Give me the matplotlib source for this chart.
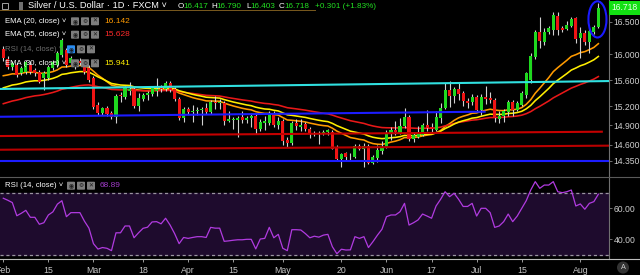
import numpy as np
import matplotlib
matplotlib.use("Agg")
import matplotlib.pyplot as plt
import matplotlib.transforms as mtransforms
from matplotlib.patches import Ellipse, FancyBboxPatch, Rectangle
from matplotlib.lines import Line2D

plt.rcParams['font.family'] = ['Liberation Sans', 'DejaVu Sans']

# daily candles, Feb 1 .. Aug 7 2019 (XAG/USD, FXCM)
opens = [16.08, 15.93, 15.80, 15.83, 15.71, 15.73, 15.83, 15.75, 15.73, 15.63,
         15.63, 15.79, 15.83, 15.99, 16.07, 15.87, 15.83, 15.90, 15.80, 15.79,
         15.63, 15.22, 15.09, 15.17, 15.09, 15.03, 15.37, 15.34, 15.44, 15.46,
         15.20, 15.31, 15.37, 15.39, 15.44, 15.48, 15.46, 15.56, 15.46, 15.31,
         15.02, 15.15, 15.11, 15.12, 15.14, 15.17, 15.11, 15.27, 15.25, 15.25,
         14.97, 14.98, 14.99, 15.03, 14.99, 15.01, 15.04, 14.85, 14.94, 14.94,
         15.09, 14.91, 14.97, 14.67, 14.63, 14.94, 14.88, 14.92, 14.85, 14.77,
         14.79, 14.77, 14.80, 14.80, 14.57, 14.38, 14.47, 14.43, 14.41, 14.58,
         14.54, 14.58, 14.32, 14.39, 14.50, 14.57, 14.78, 14.83, 14.78, 14.89,
         15.03, 14.69, 14.72, 14.75, 14.91, 14.87, 14.83, 15.02, 15.17, 15.45,
         15.36, 15.46, 15.40, 15.28, 15.26, 15.34, 15.14, 15.34, 15.33, 15.29,
         15.00, 15.05, 15.11, 15.26, 15.14, 15.22, 15.37, 15.60, 15.96, 16.35,
         16.19, 16.35, 16.38, 16.59, 16.41, 16.39, 16.44, 16.56, 16.25, 16.33,
         16.19, 16.35, 16.417]
highs = [16.13, 15.97, 15.89, 15.87, 15.82, 15.91, 15.89, 15.79, 15.76, 15.74,
         15.83, 15.91, 16.05, 16.25, 16.10, 15.97, 15.90, 15.94, 15.84, 15.83,
         15.66, 15.26, 15.19, 15.20, 15.12, 15.39, 15.41, 15.51, 15.57, 15.49,
         15.40, 15.40, 15.44, 15.51, 15.64, 15.53, 15.59, 15.59, 15.49, 15.34,
         15.18, 15.18, 15.22, 15.19, 15.19, 15.25, 15.29, 15.36, 15.31, 15.28,
         15.13, 15.03, 15.04, 15.12, 15.04, 15.10, 15.07, 15.00, 15.04, 15.12,
         15.12, 15.03, 15.00, 14.72, 14.97, 15.00, 15.00, 14.95, 14.88, 14.82,
         14.81, 14.83, 14.85, 14.83, 14.60, 14.48, 14.49, 14.47, 14.61, 14.62,
         14.63, 14.61, 14.44, 14.59, 14.66, 14.83, 14.87, 14.97, 15.01, 15.17,
         15.06, 14.80, 14.89, 14.94, 15.14, 14.93, 15.12, 15.25, 15.55, 15.59,
         15.50, 15.55, 15.43, 15.32, 15.38, 15.37, 15.38, 15.51, 15.41, 15.32,
         15.12, 15.16, 15.30, 15.30, 15.28, 15.43, 15.73, 16.02, 16.38, 16.58,
         16.41, 16.44, 16.66, 16.66, 16.44, 16.52, 16.58, 16.57, 16.42, 16.37,
         16.40, 16.46, 16.790]
lows = [15.90, 15.77, 15.76, 15.65, 15.68, 15.70, 15.70, 15.66, 15.55, 15.45,
        15.60, 15.76, 15.80, 15.96, 15.80, 15.84, 15.78, 15.83, 15.70, 15.57,
        15.16, 15.06, 15.06, 15.05, 15.00, 14.94, 15.26, 15.31, 15.37, 15.17,
        15.12, 15.28, 15.30, 15.36, 15.36, 15.42, 15.43, 15.42, 15.28, 14.99,
        14.96, 15.08, 14.96, 15.06, 14.91, 15.08, 15.08, 15.16, 15.16, 14.91,
        14.95, 14.84, 14.72, 14.94, 14.93, 14.88, 14.76, 14.81, 14.83, 14.91,
        14.88, 14.84, 14.60, 14.57, 14.60, 14.83, 14.82, 14.82, 14.70, 14.74,
        14.61, 14.75, 14.75, 14.53, 14.36, 14.26, 14.37, 14.37, 14.39, 14.52,
        14.26, 14.30, 14.30, 14.34, 14.46, 14.55, 14.67, 14.75, 14.77, 14.86,
        14.66, 14.64, 14.70, 14.73, 14.82, 14.80, 14.81, 14.93, 15.15, 15.19,
        15.24, 15.29, 15.20, 15.17, 15.22, 15.11, 15.06, 15.23, 15.24, 14.95,
        14.93, 14.95, 15.05, 15.05, 15.12, 15.20, 15.33, 15.55, 15.93, 16.10,
        16.15, 16.31, 16.30, 16.30, 16.34, 16.38, 16.42, 16.17, 15.94, 16.15,
        16.02, 16.32, 16.403]
closes = [15.94, 15.80, 15.86, 15.68, 15.79, 15.88, 15.73, 15.71, 15.57, 15.71,
          15.80, 15.88, 16.02, 16.22, 15.83, 15.94, 15.86, 15.86, 15.73, 15.60,
          15.19, 15.09, 15.17, 15.08, 15.03, 15.36, 15.35, 15.48, 15.46, 15.20,
          15.32, 15.37, 15.40, 15.48, 15.46, 15.46, 15.56, 15.45, 15.31, 15.02,
          15.15, 15.11, 15.13, 15.14, 15.16, 15.11, 15.26, 15.25, 15.27, 14.97,
          15.00, 15.00, 15.02, 14.99, 15.02, 15.04, 14.85, 14.95, 14.97, 15.09,
          14.91, 14.97, 14.66, 14.63, 14.94, 14.89, 14.90, 14.85, 14.77, 14.79,
          14.77, 14.80, 14.83, 14.54, 14.38, 14.46, 14.41, 14.42, 14.58, 14.54,
          14.58, 14.32, 14.41, 14.52, 14.57, 14.78, 14.83, 14.80, 14.89, 15.03,
          14.69, 14.75, 14.78, 14.91, 14.86, 14.85, 15.03, 15.17, 15.45, 15.36,
          15.46, 15.39, 15.28, 15.25, 15.34, 15.14, 15.34, 15.31, 15.30, 15.02,
          15.05, 15.12, 15.26, 15.14, 15.25, 15.40, 15.71, 15.98, 16.35, 16.21,
          16.35, 16.41, 16.61, 16.38, 16.38, 16.45, 16.55, 16.24, 16.33, 16.19,
          16.36, 16.43, 16.718]
rsi = [66.3, 65.0, 63.5, 55.0, 56.6, 58.5, 54.0, 54.0, 49.5, 50.5,
       55.5, 57.5, 62.5, 64.7, 54.4, 57.0, 57.0, 57.0, 51.5, 47.0,
       37.0, 33.5, 34.5, 34.0, 32.5, 44.0, 44.0, 48.4, 48.4, 40.8,
       44.0, 46.9, 47.6, 51.0, 51.2, 49.8, 53.4, 49.0, 43.5, 37.0,
       41.0, 40.4, 41.0, 41.5, 41.5, 41.0, 47.5, 47.0, 47.0, 38.5,
       38.8, 39.2, 39.5, 39.5, 39.8, 39.8, 33.6, 40.0, 40.4, 47.5,
       40.8, 43.0, 34.0, 32.5, 46.0, 46.0, 45.8, 43.5, 40.8, 41.8,
       41.2, 42.5, 43.0, 35.0, 30.5, 33.4, 32.9, 33.0, 41.5, 40.4,
       41.5, 34.5, 38.3, 42.5, 46.3, 54.4, 55.5, 55.5, 57.6, 63.0,
       49.0, 50.5, 52.3, 56.1, 54.8, 53.4, 61.3, 65.6, 70.5, 67.3,
       69.5, 65.6, 61.0, 61.0, 63.0, 54.8, 59.8, 59.8, 57.0, 47.5,
       48.4, 51.2, 56.1, 51.2, 54.8, 59.8, 64.7, 71.6, 77.0, 72.7,
       74.8, 74.8, 77.0, 70.5, 69.9, 70.5, 71.6, 61.3, 62.6, 59.2,
       63.0, 64.1, 68.89]

# EMA settings: period, value just before the first candle, legend value
ema_periods = [20, 55, 30]
ema_seeds = [15.64, 15.21, 15.45]
ema_last = ['16.142', '15.628', '15.941']

# drawn levels: (x start, price start, x end, price end)
cyan_line = (-1, 15.464, 136, 15.588)
blue_top = (-1, 15.034, 107, 15.113)
red_top = (-1, 14.736, 133, 14.803)
red_low = (-1, 14.524, 136, 14.588)
blue_low = (-1, 14.355, 136, 14.355)

date_pos = [0, 10, 20, 31, 41, 51, 62, 75, 85, 95, 105, 115, 128]
date_labels = ['Feb', '15', 'Mar', '18', 'Apr', '15', 'May', '20', 'Jun', '17', 'Jul', '15', 'Aug']
price_ticks = [16.5, 16.0, 15.6, 15.2, 14.9, 14.6, 14.35]
price_labels = ['16.500', '16.000', '15.600', '15.200', '14.900', '14.600', '14.350']
rsi_ticks = [60, 40]
rsi_labels = ['60.00', '40.00']


def ema(vals, n, seed):
    k = 2.0 / (n + 1)
    out = []
    e = seed
    for v in vals:
        e = e + k * (v - e)
        out.append(e)
    return out


def fx(px):
    return px / 640.0


def fy(py):
    return 1 - py / 275.0


fig = plt.figure(figsize=(6.4, 2.75), dpi=100, facecolor='black')
ax = fig.add_axes([0, fy(176), fx(609), 176 / 275])
ax2 = fig.add_axes([0, fy(259), fx(609), (259 - 177) / 275])

for a in (ax, ax2):
    a.set_facecolor('black')
    for s in a.spines.values():
        s.set_visible(False)
    a.spines['right'].set_visible(True)
    a.spines['right'].set_color('#707070')
    a.set_xlim(-0.73, 134.36)
    a.yaxis.tick_right()
    a.tick_params(axis='y', colors='#707070', labelcolor='#cfcfcf', labelsize=6.2,
                  length=2.2, pad=1.2, width=0.7)

ax.set_ylim(14.118, 16.840)
ax2.set_ylim(27.1, 80)

# candles
x = np.arange(len(closes))
o, h, l, c = (np.array(v) for v in (opens, highs, lows, closes))
up = c >= o
ax.vlines(x, l, h, color='#d0d0d0', lw=0.8, zorder=3)
body = np.maximum(np.abs(c - o), 0.014)
ax.bar(x, body, bottom=np.minimum(o, c), width=0.68,
       color=np.where(up, '#1fd81f', '#f01414'), linewidth=0, zorder=4)

# EMAs
ema_colors = ['#ff9a00', '#e81818', '#ffee00']
for n, seed, col in zip(ema_periods, ema_seeds, ema_colors):
    ax.plot(x, ema(closes, n, seed), color=col, lw=1.15, zorder=2)

# analyst levels
for (x0, p0, x1, p1), col in zip([cyan_line, blue_top, red_top, red_low, blue_low],
                                  ['#30e0e0', '#1c1cff', '#c40000', '#b80000', '#1c1cff']):
    ax.plot([x0, x1], [p0, p1], color=col, lw=1.5, zorder=5, solid_capstyle='butt')

# header price line
fig.add_artist(Line2D([0, fx(315)], [fy(9.5), fy(9.5)], color='#7a5a1e', lw=0.7))

ax.set_yticks(price_ticks, price_labels)
ax.tick_params(axis='x', bottom=False, labelbottom=False)

# circle around last candles
ell_top = max(highs[-1], highs[-2]) + 0.03
ell_bot = min(lows[-2:]) - 0.06
ax.add_patch(Ellipse((len(closes) - 1.2, (ell_top + ell_bot) / 2), 4.0, ell_top - ell_bot,
                     fill=False, ec='#1a1aff', lw=1.5, zorder=6, clip_on=False))

# last price tag
tr = mtransforms.blended_transform_factory(ax.transAxes, ax.transData)
ax.text(1.004, closes[-1], '16.718', transform=tr, fontsize=6.2, color='#e8ffe8',
        va='center', ha='left', zorder=7,
        bbox=dict(boxstyle='square,pad=0.3', fc='#12e012', ec='none'))

# RSI panel
ax2.axhspan(30, 70, color='#1e0b2d', zorder=0)
for lvl in (70, 30):
    ax2.axhline(lvl, color='#9a94a0', lw=0.9, ls=(0, (2.5, 2.2)), zorder=1)
ax2.plot(x, rsi, color='#b13be0', lw=0.9, zorder=3)
ax2.set_yticks(rsi_ticks, rsi_labels)
ax2.set_xticks(date_pos, date_labels)
ax2.tick_params(axis='x', colors='#9a9a9a', labelcolor='#c4c4c4', labelsize=6.3,
                length=2.2, pad=2.5, width=0.7)

# panel separators
fig.add_artist(Line2D([0, 1], [fy(176.5), fy(176.5)], color='#5a5a5a', lw=0.8))
fig.add_artist(Line2D([0, 1], [fy(259.3), fy(259.3)], color='#bdbdbd', lw=0.8))

# header
fig.add_artist(Rectangle((fx(2), fy(9)), fx(6), 6 / 275, fill=False, ec='#a0a0a0', lw=0.7))
fig.add_artist(Rectangle((fx(19), fy(9.5)), fx(4), 7 / 275, fc='#707070', ec='none'))
fig.text(fx(28), fy(6), 'Silver / U.S. Dollar · 1D · FXCM ˅', color='white',
         fontsize=6.7, va='center', ha='left')
for lx, let, vx, val in [(178, 'O', 183, '16.417'), (211, 'H', 216, '16.790'),
                         (246, 'L', 250, '16.403'), (279, 'C', 284, '16.718')]:
    fig.text(fx(lx), fy(6), let, color='white', fontsize=5.9, va='center')
    fig.text(fx(vx), fy(6), val, color='#22e022', fontsize=5.9, va='center')
fig.text(fx(315), fy(6), '+0.301 (+1.83%)', color='#22e022', fontsize=5.9, va='center')


def icons(xs, yc, first_color='#7d7d7d'):
    glyphs = ['◉', '⚙', '✕']
    for i, (bx, g) in enumerate(zip(xs, glyphs)):
        col = first_color if i == 0 else '#7d7d7d'
        fig.add_artist(FancyBboxPatch((fx(bx), fy(yc + 4)), fx(8), 8 / 275,
                                      boxstyle='round,pad=0,rounding_size=0.002',
                                      fc=col, ec='none'))
        fig.text(fx(bx + 4), fy(yc), g, color='#1c1c1c', fontsize=4.2,
                 ha='center', va='center')


legend_rows = [
    (21.3, 'EMA (20, close) ˅', 'white', [71, 81, 91], '#7d7d7d', ema_last[0], '#ff9a00'),
    (34.7, 'EMA (55, close) ˅', 'white', [71, 81, 91], '#7d7d7d', ema_last[1], '#ff2a2a'),
    (49.3, 'RSI (14, close) ˅', '#6e6e6e', [67, 77, 87], '#2a8cf0', None, None),
    (63.3, 'EMA (30, close) ˅', 'white', [71, 81, 91], '#7d7d7d', ema_last[2], '#ffee00'),
    (185.7, 'RSI (14, close) ˅', 'white', [67, 77, 87], '#7d7d7d', '68.89', '#a03cc8'),
]
for yc, label, lcol, xs, first, val, vcol in legend_rows:
    fig.text(fx(5), fy(yc), label, color=lcol, fontsize=5.6, va='center', ha='left')
    icons(xs, yc, first)
    if val is not None:
        fig.text(fx(104 if yc < 176 else 100), fy(yc), val, color=vcol, fontsize=6.0,
                 va='center', ha='left')

# bottom-right scale button
fig.text(fx(623), fy(267.5), 'A', color='#d0d0d0', fontsize=5.2, ha='center', va='center',
         bbox=dict(boxstyle='circle,pad=0.35', fc='#333333', ec='none'))

fig.savefig('out.png', dpi=100, facecolor='black')
